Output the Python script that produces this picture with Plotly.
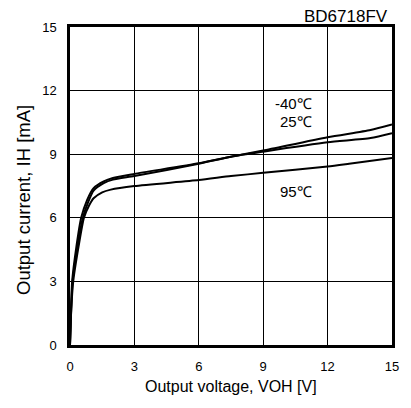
import plotly.graph_objects as go

# Data (VOH [V] vs IH [mA])
v_m40 = [0, 0.04, 0.1, 0.3, 0.52, 0.8, 1.1, 1.57, 2, 3, 6, 7.5, 9, 12, 14, 15]
i_m40 = [0, 1.5, 3, 4.65, 6, 6.85, 7.4, 7.72, 7.88, 8.07, 8.57, 8.88, 9.17, 9.8, 10.14, 10.4]

v_25 = [0, 0.05, 0.12, 0.35, 0.6, 0.85, 1.1, 1.57, 2, 3, 6, 7.5, 9, 12, 14, 15]
i_25 = [0, 1.5, 3, 4.65, 6, 6.75, 7.28, 7.63, 7.8, 7.97, 8.55, 8.88, 9.12, 9.56, 9.76, 9.99]

v_95 = [0, 0.05, 0.15, 0.4, 0.65, 0.9, 1.1, 1.5, 1.9, 3, 6, 7.5, 9, 12, 13, 15]
i_95 = [0, 1.5, 3, 4.65, 6, 6.6, 6.92, 7.2, 7.33, 7.5, 7.78, 7.97, 8.12, 8.42, 8.55, 8.82]

x_ticks = [0, 3, 6, 9, 12, 15]
y_ticks = [0, 3, 6, 9, 12, 15]

labels = ["-40℃", "25℃", "95℃"]
label_x = [10.4, 10.55, 10.55]
label_y = [11.4, 10.53, 7.23]

FONT = "Liberation Sans, Arial, sans-serif"

fig = go.Figure()
for v, i, name in [(v_m40, i_m40, "-40℃"), (v_25, i_25, "25℃"), (v_95, i_95, "95℃")]:
    fig.add_trace(go.Scatter(x=v, y=i, mode="lines", name=name,
                             line=dict(color="black", width=2, shape="spline", smoothing=0.6)))

for t, lx, ly in zip(labels, label_x, label_y):
    fig.add_annotation(x=lx, y=ly, text=t, showarrow=False,
                       font=dict(size=15, color="black", family=FONT),
                       xanchor="center", yanchor="middle")

# chart title (top right)
fig.add_annotation(x=1, y=1, xref="paper", yref="paper", text="BD6718FV", showarrow=False,
                   xanchor="right", yanchor="middle", xshift=-2, yshift=11,
                   font=dict(size=17, color="black", family=FONT))

# axis titles
fig.add_annotation(x=7.5, y=0, xref="x", yref="paper", text="Output voltage, VOH [V]",
                   showarrow=False, xanchor="center", yanchor="middle", yshift=-41,
                   font=dict(size=16, color="black", family=FONT))
fig.add_annotation(x=0, y=6.84, xref="paper", yref="y", text="Output current, IH [mA]",
                   showarrow=False, textangle=-90, xanchor="center", yanchor="middle",
                   xshift=-46, font=dict(size=18.5, color="black", family=FONT))

axis_common = dict(showgrid=True, gridcolor="black", gridwidth=1, zeroline=False,
                   showline=True, linecolor="black", linewidth=2.5, mirror=True,
                   ticks="inside", ticklen=3, tickcolor="black",
                   tickfont=dict(size=13, color="black", family=FONT))

fig.update_xaxes(range=[0, 15], tickvals=x_ticks, ticktext=[str(t) for t in x_ticks],
                 ticklabelstandoff=8, **axis_common)
fig.update_yaxes(range=[0, 15], tickvals=y_ticks, ticktext=[str(t) for t in y_ticks],
                 ticklabelstandoff=8, **axis_common)

# page body adds an 8px offset, so the figure is 403x400 and margins are shifted
fig.update_layout(width=403, height=400, showlegend=False,
                  margin=dict(l=62, r=19, t=19, b=63),
                  plot_bgcolor="white", paper_bgcolor="white",
                  font=dict(family=FONT, color="black"))

fig.write_html("out.html")
